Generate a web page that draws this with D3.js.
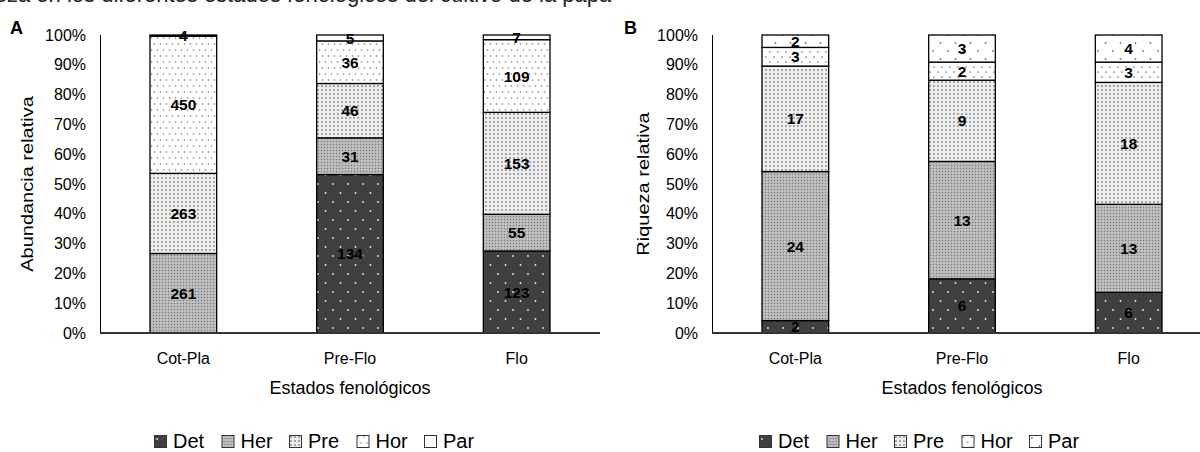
<!DOCTYPE html>
<html>
<head>
<meta charset="utf-8">
<script src="https://cdn.jsdelivr.net/npm/d3@7"></script>
<style>
  body { margin: 0; background: #fff; }
  svg { display: block; font-family: "Liberation Sans", Arial, sans-serif; }
</style>
</head>
<body>
<svg width="1200" height="452"></svg>
<script>
// datos
var estados = ["Cot-Pla", "Pre-Flo", "Flo"];
var grupos = ["Det", "Her", "Pre", "Hor", "Par"];

// A: abundancia (individuos)
var abDet = [0, 134, 123];
var abHer = [261, 31, 55];
var abPre = [263, 46, 153];
var abHor = [450, 36, 109];
var abPar = [4, 5, 7];

// B: riqueza (especies)
var riDet = [2, 6, 6];
var riHer = [24, 13, 13];
var riPre = [17, 9, 18];
var riHor = [3, 2, 3];
var riPar = [2, 3, 4];

var yTicks = [0, 0.1, 0.2, 0.3, 0.4, 0.5, 0.6, 0.7, 0.8, 0.9, 1];

function tabla(det, her, pre, hor, par) {
    return estados.map(function (e, i) {
        return { estado: e, Det: det[i], Her: her[i], Pre: pre[i], Hor: hor[i], Par: par[i] };
    });
}

var svg = d3.select("svg");
var defs = svg.append("defs");

// patrones de relleno tipo Excel
function patron(id, w, h, fondo, puntos, color, r) {
    var p = defs.append("pattern")
        .attr("id", id)
        .attr("patternUnits", "userSpaceOnUse")
        .attr("width", w)
        .attr("height", h);
    p.append("rect").attr("width", w).attr("height", h).attr("fill", fondo);
    puntos.forEach(function (pt) {
        p.append("circle").attr("cx", pt[0]).attr("cy", pt[1]).attr("r", r).attr("fill", color);
    });
    return p;
}

patron("det", 15, 18, "#404040", [[3, 4], [10.5, 13]], "#e8e8e8", 0.9);
// trama fina gris para herbivoros
var her = defs.append("pattern").attr("id", "her").attr("patternUnits", "userSpaceOnUse")
    .attr("width", 3).attr("height", 3);
her.append("rect").attr("width", 3).attr("height", 3).attr("fill", "#b4b4b4");
her.append("rect").attr("width", 1).attr("height", 1).attr("fill", "#777");
her.append("rect").attr("x", 1.5).attr("y", 1.5).attr("width", 1).attr("height", 1).attr("fill", "#e0e0e0");
patron("pre", 4, 4, "#ededed", [[2, 2]], "#8a8a8a", 0.95);
patron("horA", 6, 12, "#fff", [[1.5, 2], [4.5, 8]], "#777", 0.8);
patron("parA", 10, 10, "#fff", [], "#fff", 0);
patron("horB", 8, 10, "#fff", [[2, 2], [6, 7]], "#777", 0.85);
patron("parB", 15, 16, "#fff", [[3, 3], [10.5, 11]], "#777", 0.9);

// texto de la leyenda de figura, cortado arriba
var cab = svg.append("text")
    .attr("y", 2)
    .attr("font-size", 22)
    .attr("fill", "#222")
    .text("abundancia y riqueza en los diferentes estados fenológicos del cultivo de la papa");
var corte = cab.node().getSubStringLength(0, "abundancia y riqueza en los diferentes estados fenoló".length);
cab.attr("x", 347 - corte);

function grafico(cfg) {
    var data = tabla.apply(null, cfg.valores);
    var series = d3.stack().keys(grupos).offset(d3.stackOffsetExpand)(data);

    var x = d3.scaleBand()
        .domain(estados)
        .range([cfg.left, cfg.left + 500])
        .paddingInner(0.6)
        .paddingOuter(0.3);

    var y = d3.scaleLinear()
        .domain([0, 1])
        .range([333, 35]);

    var g = svg.append("g");

    // ticks del eje y
    g.append("g")
        .attr("font-size", 16)
        .attr("fill", "#000")
        .selectAll("text")
        .data(yTicks)
        .enter().append("text")
        .attr("x", cfg.left - 14)
        .attr("y", function (d) { return y(d); })
        .attr("dy", "0.35em")
        .attr("text-anchor", "end")
        .text(d3.format(".0%"));

    // eje y (solo la linea)
    g.append("line")
        .attr("x1", cfg.left + 0.5).attr("x2", cfg.left + 0.5)
        .attr("y1", y(1)).attr("y2", y(0))
        .attr("stroke", "#000").attr("stroke-width", 1);

    // barras apiladas
    var capa = g.append("g")
        .selectAll("g")
        .data(series)
        .enter().append("g")
        .attr("fill", function (d) { return "url(#" + cfg.patrones[d.key] + ")"; });

    capa.selectAll("rect")
        .data(function (d) { return d; })
        .enter().append("rect")
        .attr("x", function (d) { return x(d.data.estado); })
        .attr("y", function (d) { return y(d[1]); })
        .attr("height", function (d) { return y(d[0]) - y(d[1]); })
        .attr("width", x.bandwidth())
        .attr("stroke", "#000")
        .attr("stroke-width", 1.3);

    // etiquetas de valores
    capa.selectAll("text")
        .data(function (d) {
            return d.map(function (v) { v.key = this.key; return v; }, d);
        })
        .enter().filter(function (d) { return d.data[d.key] > 0; })
        .append("text")
        .attr("x", function (d) { return x(d.data.estado) + x.bandwidth() / 2; })
        .attr("y", function (d) { return (y(d[0]) + y(d[1])) / 2; })
        .attr("dy", "0.36em")
        .attr("text-anchor", "middle")
        .attr("font-size", 15.5)
        .attr("font-weight", "bold")
        .attr("fill", "#000")
        .text(function (d) { return d.data[d.key]; });

    // eje x
    g.append("line")
        .attr("x1", cfg.left).attr("x2", cfg.left + 500)
        .attr("y1", y(0)).attr("y2", y(0))
        .attr("stroke", "#333").attr("stroke-width", 2);

    g.append("g")
        .attr("font-size", 16)
        .selectAll("text")
        .data(estados)
        .enter().append("text")
        .attr("x", function (d) { return x(d) + x.bandwidth() / 2; })
        .attr("y", 364)
        .attr("text-anchor", "middle")
        .text(function (d) { return d; });

    g.append("text")
        .attr("x", cfg.left + 250)
        .attr("y", 394)
        .attr("text-anchor", "middle")
        .attr("font-size", 18)
        .text("Estados fenológicos");

    // titulo del eje y
    g.append("text")
        .attr("transform", "translate(" + cfg.tituloX + "," + (y(0) + y(1)) / 2 + ") rotate(-90) scale(1.25,1)")
        .attr("text-anchor", "middle")
        .attr("font-size", 16)
        .text(cfg.tituloY);

    // letra del panel
    g.append("text")
        .attr("x", cfg.letraX)
        .attr("y", 34)
        .attr("font-size", 18)
        .attr("font-weight", "bold")
        .text(cfg.letra);

    // leyenda
    var leyenda = g.append("g")
        .selectAll("g")
        .data(grupos)
        .enter().append("g")
        .attr("transform", function (d, i) {
            return "translate(" + (cfg.leyendaX + i * 67.5) + ",435)";
        });

    leyenda.append("rect")
        .attr("x", 0.5).attr("y", 0.5)
        .attr("width", 12).attr("height", 12)
        .attr("fill", function (d) { return "url(#" + cfg.patrones[d] + ")"; })
        .attr("stroke", "#333")
        .attr("stroke-width", 1);

    leyenda.append("text")
        .attr("x", 19)
        .attr("y", 13)
        .attr("font-size", 20)
        .text(function (d) { return d; });
}

grafico({
    left: 100,
    valores: [abDet, abHer, abPre, abHor, abPar],
    patrones: { Det: "det", Her: "her", Pre: "pre", Hor: "horA", Par: "parA" },
    tituloY: "Abundancia  relativa",
    tituloX: 33,
    letra: "A",
    letraX: 10,
    leyendaX: 154
});

grafico({
    left: 712,
    valores: [riDet, riHer, riPre, riHor, riPar],
    patrones: { Det: "det", Her: "her", Pre: "pre", Hor: "horB", Par: "parB" },
    tituloY: "Riqueza relativa",
    tituloX: 649,
    letra: "B",
    letraX: 624,
    leyendaX: 759
});
</script>
</body>
</html>
